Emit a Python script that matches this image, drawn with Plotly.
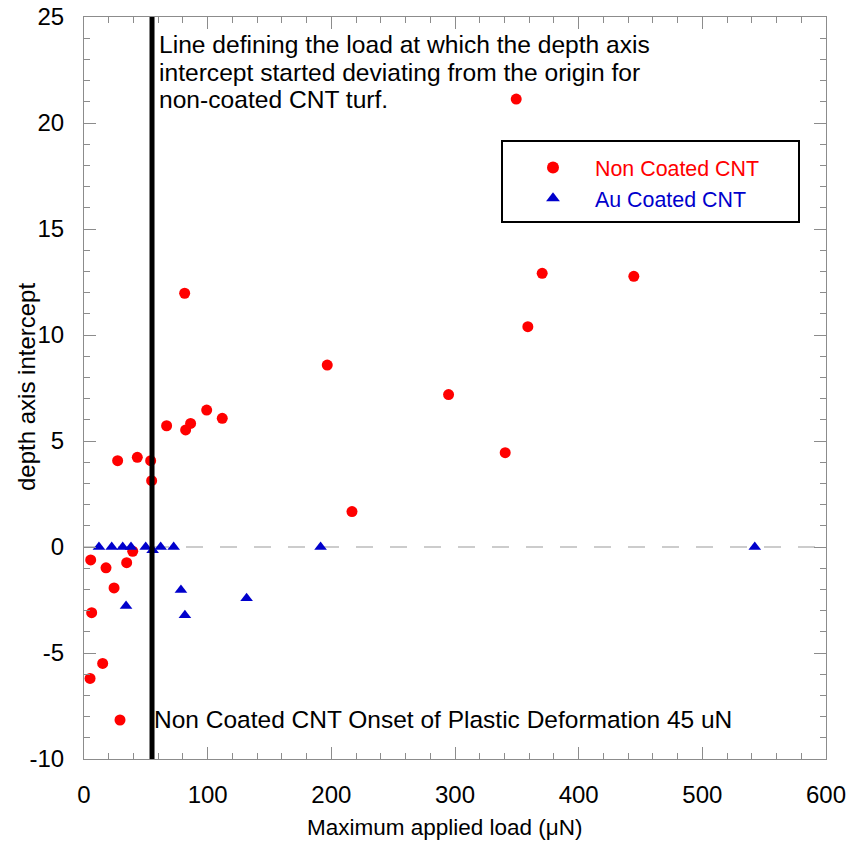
import plotly.graph_objects as go

# Non coated CNT (red circles)
nc_load = [5.4, 17.8, 34.5, 39.4, 24.3, 6.2, 15.1, 4.9, 29.1, 27.2, 43.1, 53.9, 54.7,
           66.8, 82.2, 86.2, 99.2, 111.8, 81.4, 196.7, 216.7, 349.5, 370.5, 444.6,
           358.9, 294.8, 340.6]
nc_depth = [-0.61, -0.98, -0.74, -0.2, -1.93, -3.1, -5.49, -6.2, -8.16, 4.07, 4.23, 4.07, 3.13,
            5.72, 5.52, 5.83, 6.46, 6.07, 11.97, 8.58, 1.67, 21.13, 12.91, 12.77,
            10.39, 7.19, 4.45]

# Au coated CNT (blue triangles)
au_load = [12.1, 22.4, 31.3, 38.0, 49.9, 55.5, 62.0, 72.5, 34.0, 78.4, 81.6, 131.5, 191.3, 542.4]
au_depth = [0, 0, 0, 0, 0, -0.15, 0, 0, -2.78, -2.03, -3.22, -2.42, 0, 0]

ONSET_LOAD = 55
x_ticks = [0, 100, 200, 300, 400, 500, 600]
y_ticks = [-10, -5, 0, 5, 10, 15, 20, 25]

note_lines = ["Line defining the load at which the depth axis",
              "intercept started deviating from the origin for",
              "non-coated CNT turf."]
onset_text = "Non Coated CNT Onset of Plastic Deformation 45 uN"
x_title = "Maximum applied load (μN)"
y_title = "depth axis intercept"

FONT = "Liberation Sans, Arial, sans-serif"
L, R, T, B = 84, 826, 17, 759
PW, PH = R - L, B - T


def py(p):
    return (B - p) / PH


def px(p):
    return (p - L) / PW


fig = go.Figure()
fig.add_trace(go.Scatter(x=nc_load, y=nc_depth, mode="markers",
                         name="<span style='color:#FF0000'>Non Coated CNT</span>",
                         marker=dict(symbol="circle", size=11, color="#FF0000")))
fig.add_trace(go.Scatter(x=au_load, y=au_depth, mode="markers",
                         name="<span style='color:#0000CC'>Au Coated CNT</span>",
                         marker=dict(symbol="triangle-up", size=11, color="#0000CC")))

# zero dashed line
fig.add_shape(type="line", xref="paper", yref="y", x0=0, x1=1, y0=0, y1=0,
              line=dict(color="#9a9a9a", width=1.2, dash="17px,17px"), layer="below")
# onset line
fig.add_shape(type="line", xref="x", yref="paper", x0=ONSET_LOAD, x1=ONSET_LOAD, y0=0, y1=1,
              line=dict(color="black", width=5))
# legend box
fig.add_shape(type="rect", xref="paper", yref="paper",
              x0=px(502), x1=px(799), y0=py(222), y1=py(141),
              line=dict(color="black", width=2), fillcolor="rgba(0,0,0,0)")

for line, yc in zip(note_lines, [45, 72, 99]):
    fig.add_annotation(xref="x", yref="paper", x=ONSET_LOAD, y=py(yc),
                       xanchor="left", yanchor="middle", xshift=5, showarrow=False,
                       text=line, font=dict(family=FONT, size=24.6, color="black"))
fig.add_annotation(xref="x", yref="y", x=ONSET_LOAD, y=-8.15,
                   xanchor="left", yanchor="middle", xshift=0, showarrow=False,
                   text=onset_text,
                   font=dict(family=FONT, size=24.5, color="black"))

# axis titles
fig.add_annotation(xref="paper", yref="paper", x=px(445), y=py(827),
                   xanchor="center", yanchor="middle", showarrow=False,
                   text=x_title, font=dict(family=FONT, size=22.5, color="black"))
fig.add_annotation(xref="paper", yref="paper", x=px(26), y=py(387),
                   xanchor="center", yanchor="middle", showarrow=False, textangle=-90,
                   text=y_title, font=dict(family=FONT, size=24, color="black"))

axis_common = dict(showgrid=False, zeroline=False, showline=True, linecolor="#8c8c8c",
                   linewidth=1.2, mirror="ticks", ticks="inside", ticklen=12,
                   tickcolor="#8c8c8c", tickwidth=1.2, automargin=False,
                   tickfont=dict(family=FONT, size=24, color="black"))

fig.update_xaxes(range=[0, 600], tickvals=x_ticks, ticktext=[str(v) for v in x_ticks],
                 minor=dict(ticks="inside", dtick=20, ticklen=6, tickcolor="#8c8c8c"),
                 ticklabelstandoff=14, **axis_common)
fig.update_yaxes(range=[-10, 25], tickvals=y_ticks, ticktext=[str(v) for v in y_ticks],
                 minor=dict(ticks="inside", dtick=1, ticklen=6, tickcolor="#8c8c8c"),
                 ticklabelstandoff=14, **axis_common)

fig.update_layout(
    width=850, height=843,
    margin=dict(l=L, r=850 - R, t=T, b=843 - B),
    paper_bgcolor="white", plot_bgcolor="white",
    showlegend=True,
    legend=dict(x=px(511), y=py(147), xanchor="left", yanchor="top",
                bgcolor="rgba(0,0,0,0)", borderwidth=0,
                font=dict(family=FONT, size=21.4), itemsizing="constant",
                tracegroupgap=0, itemwidth=74),
    font=dict(family=FONT),
)

fig.write_html("out.html")
